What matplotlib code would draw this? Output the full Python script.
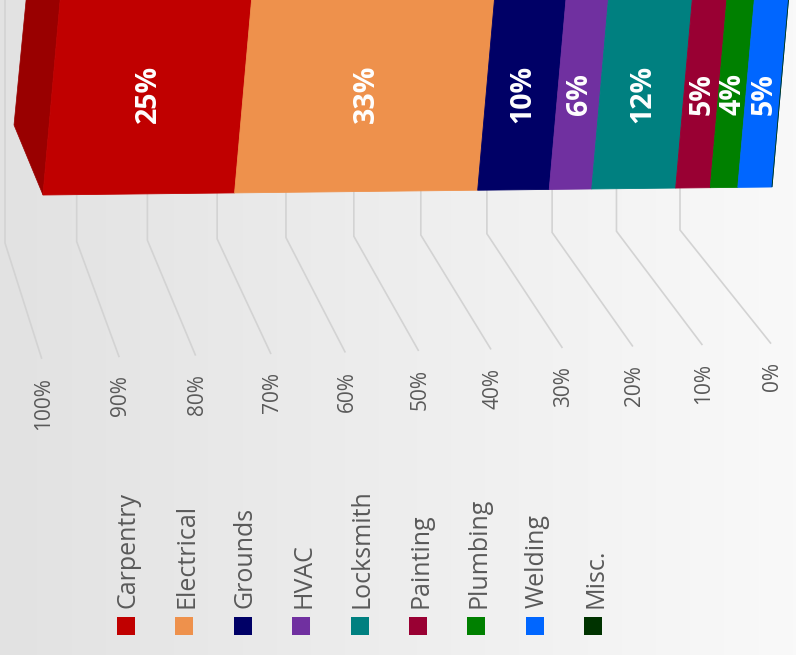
import numpy as np
import matplotlib
matplotlib.use("Agg")
import matplotlib.pyplot as plt
from matplotlib.transforms import Affine2D, IdentityTransform
from matplotlib.patches import Polygon
from matplotlib.colors import LinearSegmentedColormap

# ---------------- data ----------------
categories = ["Carpentry", "Electrical", "Grounds", "HVAC", "Locksmith",
              "Painting", "Plumbing", "Welding", "Misc."]
shares = [25, 33, 10, 6, 12, 5, 4, 5, 0]
colors = ["#C00000", "#EE914C", "#000066", "#7030A0", "#008080",
          "#990033", "#008000", "#0066FF", "#003300"]
tick_values = [100, 90, 80, 70, 60, 50, 40, 30, 20, 10, 0]
tick_labels = ["100%", "90%", "80%", "70%", "60%", "50%", "40%",
               "30%", "20%", "10%", "0%"]

FONT = ["Open Sans", "DejaVu Sans"]
W, H = 796, 655
fig = plt.figure(figsize=(W / 100, H / 100), dpi=100)

# background gradient
bg = fig.add_axes([0, 0, 1, 1], zorder=0)
cmap = LinearSegmentedColormap.from_list("bg", ["#e2e2e2", "#f9f9f9"])
bg.imshow(np.linspace(0, 1, 256)[None, :], aspect="auto", cmap=cmap,
          extent=[0, 1, 0, 1])
bg.axis("off")

# decoration axes in pixel units (gridlines, tick labels, legend)
deco = fig.add_axes([0, 0, 1, 1], zorder=1)
deco.set_xlim(0, W)
deco.set_ylim(H, 0)
deco.axis("off")

# main axes: value scale with perspective-like function scale
X0, X1 = 43, 772
ax = fig.add_axes([X0 / W, 0, (X1 - X0) / W, 1], zorder=2)
s = 0.935


def fwd(v):
    u = np.asarray(v, dtype=float) / 100.0
    return u * s / (1 + (s - 1) * u)


def inv(g):
    g = np.asarray(g, dtype=float)
    return 100.0 * g / (s - (s - 1) * g)


ax.set_xscale("function", functions=(fwd, inv))
ax.set_xlim(100, 0)
ax.set_ylim(H, 0)
ax.axis("off")

BAR_BOTTOM, BAR_TOP = 195, -6
anchor_y = H - BAR_BOTTOM
shear_x = np.arctan(17 / 193)
shear_y = np.arctan(8 / 729)
bar_trans = ax.transData + (Affine2D().translate(-X0, -anchor_y)
                            .skew(shear_x, shear_y).translate(X0, anchor_y))
text_trans = ax.transData + (Affine2D().translate(-X0, -anchor_y)
                             .skew(shear_x, 0).translate(X0, anchor_y))

vals = np.array(shares, dtype=float)
lefts = np.cumsum(vals[::-1])[::-1] - vals

bars = ax.barh((BAR_BOTTOM + BAR_TOP) / 2, vals, left=lefts,
               height=BAR_BOTTOM - BAR_TOP, color=colors, zorder=3)
for p, c in zip(bars, colors):
    p.set_transform(bar_trans)
    p.set_clip_on(False)
    p.set_edgecolor(c)
    p.set_linewidth(0.6)

# 3D side face of the first segment
tl = bar_trans.transform((100, BAR_TOP))
bl = bar_trans.transform((100, BAR_BOTTOM))
side = Polygon([tl, bl, bl + np.array([-29, 70]), tl + np.array([-34, 0])],
               closed=True, facecolor="#990000", edgecolor="#990000",
               linewidth=0.5, transform=IdentityTransform(), clip_on=False,
               zorder=2)
ax.add_patch(side)

# value labels on segments
for v, l, c in zip(vals, lefts, colors):
    if v <= 0:
        continue
    ax.text(l + v / 2, 94, f"{int(v)}%", transform=text_trans, rotation=90,
            ha="center", va="center", color="white", fontsize=20.5,
            fontweight="bold", family=FONT, zorder=5, clip_on=False)

# gridlines + tick labels (derived from the value scale)
for tv, tl_ in zip(tick_values, tick_labels):
    xbar = ax.transData.transform((tv, 0))[0]
    xf = xbar - 1.5
    rf = 358 - 15 * (xf - 42) / 728
    xb = 5 + (xbar - X0) * 675 / (X1 - X0)
    rb = 243 - 13 * (xb - 5) / 675
    deco.plot([xb, xb, xf], [0, rb, rf], color="#d3d3d3", lw=1.2,
              solid_joinstyle="miter", zorder=1)
    deco.text(xf + 2, rf + 19, tl_, rotation=90, ha="center", va="top",
              color="#595959", fontsize=15, family=FONT)

# legend
for i, (cat, col) in enumerate(zip(categories, colors)):
    lx = 126 + 58.4 * i
    deco.scatter([lx], [626], marker="s", s=165, color=col, linewidths=0,
                 zorder=3)
    deco.text(lx + 2.5, 608, cat, rotation=90, ha="center", va="bottom",
              color="#595959", fontsize=18, family=FONT)

fig.savefig("out.png", dpi=100)
